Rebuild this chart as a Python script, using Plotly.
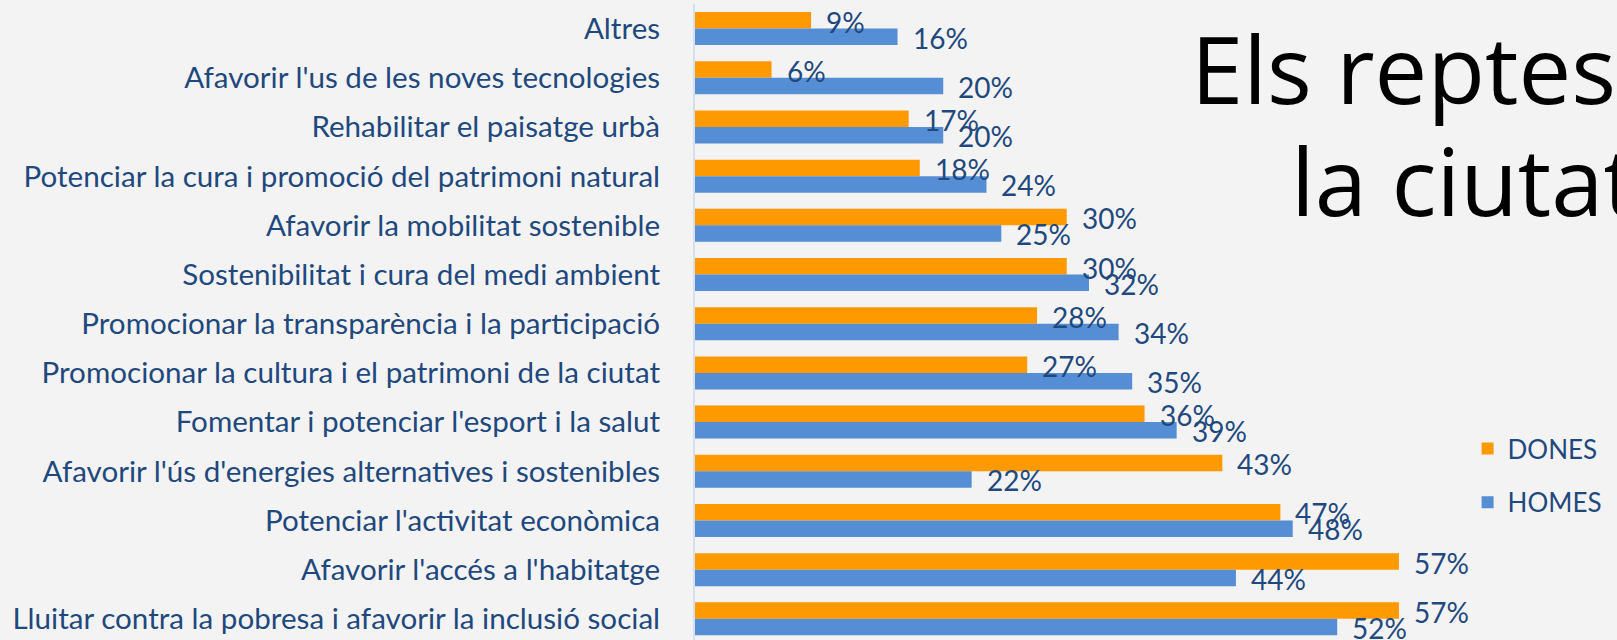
import plotly.graph_objects as go

categories = [
    "Altres",
    "Afavorir l'us de les noves tecnologies",
    "Rehabilitar el paisatge urbà",
    "Potenciar la cura i promoció del patrimoni natural",
    "Afavorir la mobilitat sostenible",
    "Sostenibilitat i cura del medi ambient",
    "Promocionar la transparència i la participació",
    "Promocionar la cultura i el patrimoni de la ciutat",
    "Fomentar i potenciar l'esport i la salut",
    "Afavorir l'ús d'energies alternatives i sostenibles",
    "Potenciar l'activitat econòmica",
    "Afavorir l'accés a l'habitatge",
    "Lluitar contra la pobresa i afavorir la inclusió social",
]
# values (labels show them rounded)
dones = [9.4, 6.2, 17.3, 18.2, 30.1, 30.1, 27.7, 26.9, 36.4, 42.7, 47.4, 57.0, 57.0]
homes = [16.4, 20.1, 20.1, 23.6, 24.8, 31.9, 34.3, 35.4, 39.0, 22.4, 48.4, 43.8, 52.0]
title_lines = ["Els reptes", "la ciutat"]

W, H = 1617, 640
ML, MR, MT, MB = 695, 181, 4, 0
ORANGE = "#FF9900"
BLUE = "#558ED5"
TXT = "#1F497D"
FONT = "Lato"

fig = go.Figure()
fig.add_trace(go.Bar(name="DONES", y=categories, x=dones, orientation="h",
                     marker=dict(color=ORANGE, line=dict(width=0)),
                     legendgroup="d", hoverinfo="x+y"))
fig.add_trace(go.Bar(name="HOMES", y=categories, x=homes, orientation="h",
                     marker=dict(color=BLUE, line=dict(width=0)),
                     legendgroup="h", hoverinfo="x+y"))

ann = []
for c, d, h in zip(categories, dones, homes):
    ann.append(dict(x=d, y=c, xref="x", yref="y", text=f"{round(d)}%", showarrow=False,
                    xanchor="left", yanchor="middle", xshift=13, yshift=7,
                    font=dict(family=FONT, size=28, color=TXT)))
    ann.append(dict(x=h, y=c, xref="x", yref="y", text=f"{round(h)}%", showarrow=False,
                    xanchor="left", yanchor="middle", xshift=13, yshift=-9,
                    font=dict(family=FONT, size=28, color=TXT)))

pw = W - ML - MR
ph = H - MT - MB
def px_x(p):
    return (p - ML) / pw
def px_y(p):
    return 1 - (p - MT) / ph

ann.append(dict(x=px_x(1189), y=px_y(68), xref="paper", yref="paper",
                text=title_lines[0], showarrow=False, xanchor="left", yanchor="middle",
                font=dict(family="Open Sans", size=94, color="#000000")))
ann.append(dict(x=px_x(1289), y=px_y(180), xref="paper", yref="paper",
                text=title_lines[1], showarrow=False, xanchor="left", yanchor="middle",
                font=dict(family="Open Sans", size=94, color="#000000")))

fig.update_layout(
    width=W, height=H,
    margin=dict(l=ML, r=MR, t=MT, b=MB, autoexpand=False),
    paper_bgcolor="#F3F3F3",
    plot_bgcolor="rgba(0,0,0,0)",
    barmode="group", bargap=0.33, bargroupgap=0,
    xaxis=dict(range=[0, 60], showgrid=False, zeroline=False, showticklabels=False,
               showline=False, fixedrange=True),
    yaxis=dict(categoryorder="array", categoryarray=categories,
               range=[12.43, -0.5], showgrid=False, zeroline=False,
               showline=True, linecolor="#D5DFEE", linewidth=2,
               ticks="", ticklabelstandoff=27,
               tickfont=dict(family=FONT, size=29.6, color=TXT)),
    legend=dict(xref="container", yref="container", x=0.9076, y=1 - 425 / H,
                xanchor="left", yanchor="top", traceorder="grouped",
                tracegroupgap=17, bgcolor="rgba(0,0,0,0)",
                font=dict(family=FONT, size=26, color=TXT), itemwidth=30),
    annotations=ann,
    showlegend=True,
)

fig.write_html("out.html", config={"displayModeBar": False},
               post_script="document.body.style.margin='0';")
